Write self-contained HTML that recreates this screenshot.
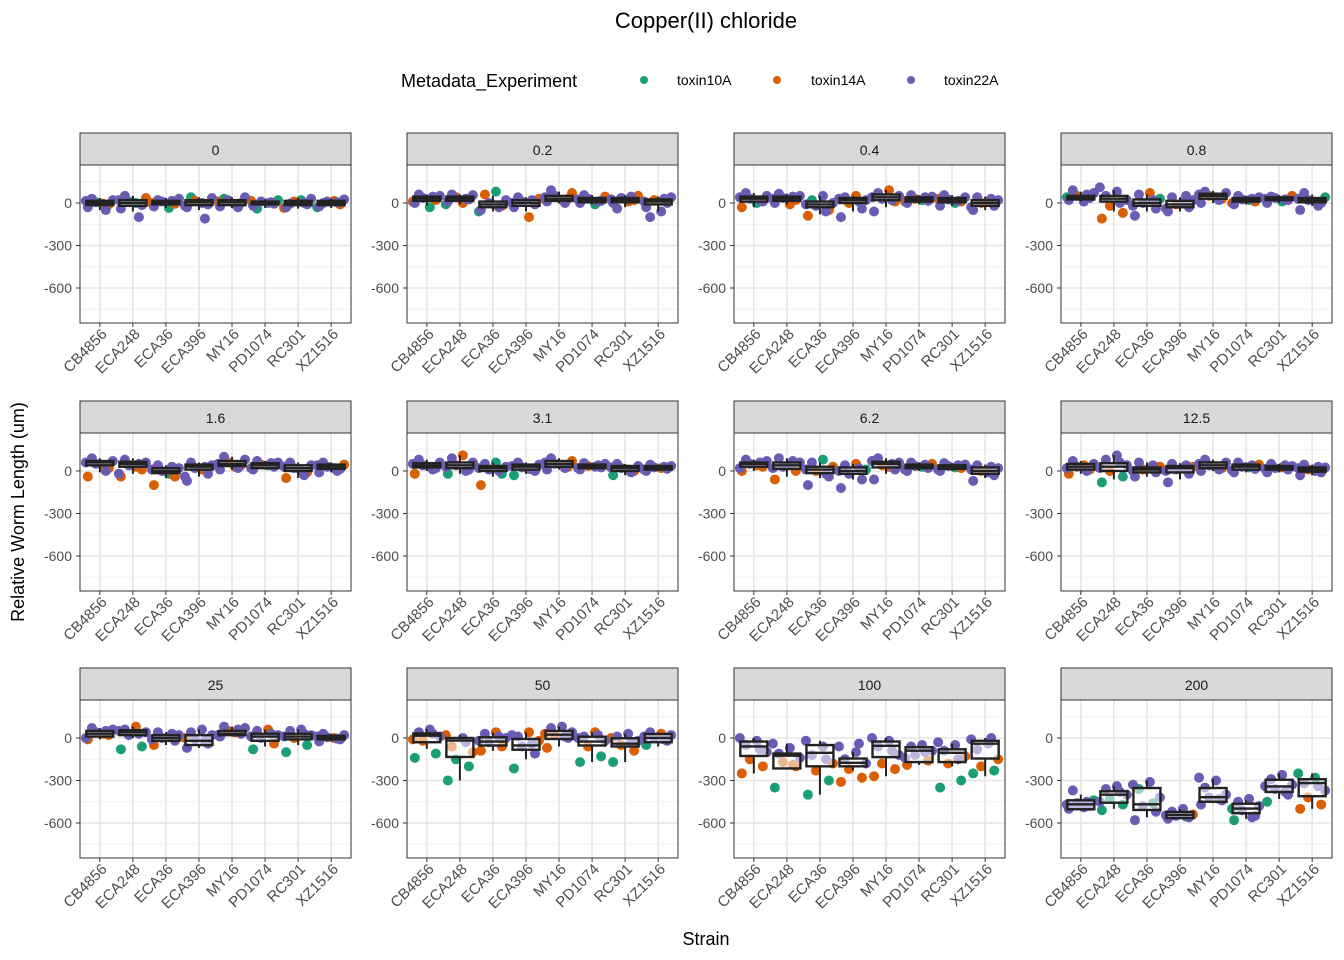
<!DOCTYPE html>
<html><head><meta charset="utf-8"><style>
body{margin:0;background:#fff}
svg{display:block;font-family:"Liberation Sans",Arial,sans-serif}
</style></head><body>
<svg id="c" width="1344" height="960" viewBox="0 0 1344 960">
<text x="706" y="28" text-anchor="middle" font-size="22" fill="#000">Copper(II) chloride</text>
<g>
<text x="401" y="87" font-size="18" fill="#000">Metadata_Experiment</text>
<circle cx="644" cy="80" r="4" fill="#1b9e77"/>
<text x="677" y="85" font-size="14">toxin10A</text>
<circle cx="777" cy="80" r="4" fill="#d95f02"/>
<text x="811" y="85" font-size="14">toxin14A</text>
<circle cx="911" cy="80" r="4" fill="#6b5cb3"/>
<text x="944" y="85" font-size="14">toxin22A</text>
</g>
<text transform="translate(24,512) rotate(-90)" text-anchor="middle" font-size="18">Relative Worm Length (um)</text>
<text x="706" y="945" text-anchor="middle" font-size="18">Strain</text>
<g id="panels"></g>
</svg>
<script>
const strains = ["CB4856","ECA248","ECA36","ECA396","MY16","PD1074","RC301","XZ1516"];
const doses = ["0","0.2","0.4","0.8","1.6","3.1","6.2","12.5","25","50","100","200"];
const yTicks = [0,-300,-600];
const expColors = ["#1b9e77","#d95f02","#6b5cb3"];
// box stats per panel per strain: [q1, median, q3, lowerWhisker, upperWhisker]
const boxes = [
[[-15,0,15,-50,35],[-20,0,20,-60,50],[-10,5,15,-35,35],[-15,5,20,-50,40],[-15,5,20,-35,40],[-10,0,10,-35,25],[-15,0,15,-40,35],[-15,0,15,-35,30]],
[[15,30,45,-20,60],[15,30,45,-10,60],[-30,-10,10,-60,50],[-20,0,20,-60,40],[15,30,50,0,80],[5,20,35,-10,55],[5,20,35,-30,55],[-10,10,25,-60,45]],
[[10,30,45,-30,70],[15,30,45,-10,65],[-30,-10,10,-80,50],[0,20,35,-60,50],[20,40,60,-30,90],[10,25,40,-10,55],[5,20,35,-20,55],[-20,0,20,-50,45]],
[[25,40,50,10,80],[10,30,50,-60,90],[-20,0,25,-60,60],[-30,-10,15,-60,40],[30,50,65,0,85],[10,20,35,-10,50],[20,30,40,0,55],[5,20,35,-20,60]],
[[40,60,70,-10,90],[30,50,65,-20,90],[-15,0,20,-50,40],[10,30,45,-40,60],[35,50,70,10,100],[20,40,55,10,70],[0,20,40,-50,60],[15,30,45,-10,60]],
[[25,40,55,0,80],[20,40,60,-20,110],[0,20,35,-40,60],[10,30,45,-20,60],[30,50,70,10,90],[20,30,45,10,55],[0,20,35,-30,50],[10,20,35,0,45]],
[[30,50,60,0,80],[15,40,60,-40,90],[-15,10,30,-50,60],[-20,0,25,-60,50],[25,50,65,-20,90],[20,30,45,0,60],[15,30,40,0,55],[-20,0,25,-50,45]],
[[10,30,50,-20,70],[0,30,55,-60,110],[-10,10,25,-40,60],[-10,20,35,-60,55],[20,40,60,0,80],[10,30,45,-10,60],[10,20,35,-10,50],[-5,10,25,-30,45]],
[[10,30,50,-10,70],[20,40,55,0,80],[-20,0,20,-50,40],[-50,-20,20,-70,60],[20,30,50,10,80],[-20,10,30,-60,60],[-10,10,30,-50,60],[-10,0,15,-25,30]],
[[-30,16,32,-76,62],[-134,-18,0,-300,20],[-53,-25,5,-90,40],[-83,-53,-7,-150,40],[-7,23,50,-60,80],[-53,-25,9,-170,40],[-60,-40,-2,-170,30],[-30,0,28,-60,40]],
[[-127,-60,-25,-250,0],[-215,-125,-110,-220,-40],[-200,-105,-50,-400,-20],[-200,-175,-145,-230,-100],[-135,-55,-25,-270,0],[-170,-90,-65,-190,-55],[-170,-105,-80,-200,-40],[-145,-40,-20,-270,0]],
[[-503,-468,-440,-510,-400],[-457,-400,-376,-500,-340],[-508,-468,-353,-560,-300],[-565,-543,-522,-570,-500],[-450,-418,-353,-460,-290],[-531,-498,-464,-570,-440],[-381,-342,-295,-430,-250],[-411,-318,-291,-500,-250]]
];
// point values per panel per strain
const pointVals = [
[[-30,-10,5,20,30,-5,15,-50],[-40,-15,10,35,50,0,20,-100],[-25,-5,10,30,20,-35,0,15],[-30,-10,15,35,40,0,-20,-110],[-25,0,20,40,30,-10,10,-30],[-20,-5,10,20,-40,0,15,5],[-30,-10,10,30,-5,20,-35,0],[-25,-10,10,25,0,15,-30,5]],
[[0,20,35,50,60,-30,10,45],[10,25,40,55,60,0,-10,30],[-50,-20,0,20,60,80,-60,-30],[-30,-10,10,30,40,-100,0,20],[10,30,50,70,90,20,40,0],[0,15,30,45,55,-10,25,10],[0,20,35,50,-40,10,25,45],[-30,0,20,40,-100,-60,10,30]],
[[-30,10,30,50,70,0,40,20],[0,20,35,50,65,-10,30,45],[-90,-50,-20,0,20,50,-10,-60],[-100,-40,0,20,40,50,30,10],[-60,10,30,50,70,90,40,20],[0,15,30,45,55,20,10,40],[-20,10,25,40,55,0,30,15],[-50,-20,0,20,40,10,-30,30]],
[[20,35,50,70,90,10,40,60],[-110,-70,-20,20,50,80,110,0],[-90,-40,0,30,60,70,-20,20],[-60,-30,-10,20,40,0,-40,50],[0,30,50,70,80,40,60,20],[-10,10,25,40,50,20,0,30],[0,20,35,50,45,10,30,25],[-50,0,20,40,70,10,30,-20]],
[[-40,20,50,70,90,40,60,0],[-40,10,40,60,80,30,-20,50],[-100,-40,0,20,40,-20,10,30],[-70,-20,20,40,60,10,-40,30],[10,40,60,80,100,30,50,20],[10,30,45,60,70,40,20,55],[-50,-10,20,40,60,0,30,-30],[-10,15,30,45,60,20,40,0]],
[[-20,20,40,60,80,30,50,10],[-20,10,40,60,90,110,30,0],[-100,-20,10,30,50,60,20,0],[-30,0,25,45,60,15,35,10],[10,30,50,70,90,40,60,20],[10,25,35,50,55,30,20,40],[-30,0,20,35,50,10,25,-10],[0,15,25,35,45,20,10,30]],
[[0,30,50,70,80,40,20,60],[-60,0,30,60,90,40,20,70],[-100,-40,0,30,60,80,10,-20],[-120,-60,-20,10,40,50,0,20],[-60,10,40,60,90,30,70,50],[0,20,35,50,60,30,10,45],[0,20,35,45,55,25,10,40],[-70,-30,0,20,40,-10,10,30]],
[[-20,10,30,50,70,40,20,0],[-80,-40,0,40,80,110,20,60],[-40,-10,10,30,60,20,0,40],[-80,-20,10,30,50,20,0,40],[0,20,40,60,80,30,50,10],[-10,15,30,45,60,25,5,40],[-10,10,20,35,50,25,15,40],[-30,-10,10,25,45,0,20,30]],
[[-10,20,40,60,70,30,0,50],[-80,-60,20,40,60,80,50,30],[-50,-20,0,20,40,10,-10,30],[-70,-40,-10,20,40,60,0,-20],[10,30,50,70,80,40,20,60],[-80,-40,0,20,50,60,10,30],[-100,-50,0,20,50,60,10,30],[-25,-10,5,20,30,0,10,-5]],
[[-140,-110,-20,10,40,60,-10,30],[-300,-200,-150,-100,-60,0,20,-30],[-90,-60,-30,0,30,40,-20,10],[-215,-110,-60,-20,10,40,20,-40],[-70,0,20,40,70,80,30,10],[-170,-130,-60,-20,10,40,0,20],[-170,-90,-50,-20,10,30,0,-30],[-50,-20,0,20,40,30,10,-10]],
[[-250,-200,-150,-100,-50,-20,0,-80],[-350,-200,-170,-140,-110,-70,-40,-190],[-400,-300,-230,-180,-120,-60,-20,-150],[-310,-280,-220,-180,-150,-100,-60,-40],[-270,-220,-180,-120,-60,-20,0,-90],[-190,-160,-120,-90,-60,-50,-140,-100],[-350,-300,-180,-130,-90,-50,-30,-150],[-250,-230,-200,-150,-80,-40,-10,0]],
[[-500,-480,-460,-440,-370,-490,-470,-450],[-510,-470,-430,-400,-360,-340,-450,-380],[-580,-520,-480,-420,-360,-310,-330,-460],[-570,-560,-550,-540,-520,-500,-545,-555],[-470,-440,-420,-400,-350,-300,-280,-430],[-580,-550,-510,-480,-450,-430,-500,-560],[-450,-400,-360,-330,-290,-260,-340,-380],[-500,-470,-420,-370,-320,-280,-250,-340]]
];
// experiment index (0=toxin10A,1=toxin14A,2=toxin22A) for each point
const pointExp = [
["21022122","22012022","21222012","22120222","21220212","22200212","22122012","21222102"],
["21222012","22122102","21221002","22212122","21212122","22212022","21212122","22122222"],
["12222022","21222122","11220222","22122122","21222122","22122012","21222012","22122122"],
["22122202","11122222","22202122","22122222","21122022","21222012","22212022","22202122"],
["11222122","11222122","11222022","22222122","21122122","22122022","11222022","22212022"],
["12222022","02222122","10222022","02222122","21212122","22122222","01222122","22222122"],
["11222122","11222222","22112022","22202122","22122122","22212022","21222022","22122222"],
["11222122","00122222","22112022","22212222","21222122","22212022","22222122","22122222"],
["11222122","00222122","12222022","22222212","22122122","01222122","00122222","22222122"],
["00122212","00011212","11222122","02212122","12122212","00122122","01122212","02222122"],
["11122222","01122221","00112222","11122222","11122222","11222222","00112222","00112222"],
["22202222","00022222","22220220","22212220","22222222","02222202","02222222","11122002"]
];
const colX=[80,407,734,1061], rowTop=[133,401,668], PW=271, SH=32, PH=158;
const YMAX=268, YMIN=-847;
const jit=[-12,9,-4,13,-8,3,-14,6];
const NS="http://www.w3.org/2000/svg";
const root=document.getElementById('panels');
function el(t,a,p){const e=document.createElementNS(NS,t);for(const k in a)e.setAttribute(k,a[k]);(p||root).appendChild(e);return e;}
doses.forEach((d,pi)=>{
  const x0=colX[pi%4], st=rowTop[Math.floor(pi/4)], y0=st+SH;
  const ys=v=>y0+(YMAX-v)/(YMAX-YMIN)*PH;
  const xs=i=>x0+(i+0.6)/8.2*PW;
  const g=el('g',{});
  
  
  const strip=el('rect',{x:x0,y:st,width:PW,height:SH,fill:'#d9d9d9',stroke:'#333','stroke-width':1},g);
  
  
  const stt=el('text',{x:x0+PW/2,y:st+22,'text-anchor':'middle','font-size':14,fill:'#1a1a1a'},g);
  stt.textContent=d;
  
  
  el('rect',{x:x0,y:y0,width:PW,height:PH,fill:'#fff'},g);
  [150,-150,-450,-750].forEach(v=>el('line',{x1:x0,x2:x0+PW,y1:ys(v),y2:ys(v),stroke:'#f2f2f2','stroke-width':1},g));
  yTicks.forEach(v=>el('line',{x1:x0,x2:x0+PW,y1:ys(v),y2:ys(v),stroke:'#e5e5e5','stroke-width':1.5},g));
  strains.forEach((s,i)=>el('line',{x1:xs(i),x2:xs(i),y1:y0,y2:y0+PH,stroke:'#e5e5e5','stroke-width':1.5},g));
  [0,1,2].forEach(e=>{
    strains.forEach((s,i)=>{
      pointVals[pi][i].forEach((v,k)=>{
        if(+pointExp[pi][i][k]!==e) return;
        const c=el('circle',{cx:xs(i)+jit[k],cy:ys(v),r:5,fill:expColors[e]},g);
        
        
      });
    });
  });
  strains.forEach((s,i)=>{
    const b=boxes[pi][i], cx=xs(i), hw=13.5;
    el('line',{x1:cx,x2:cx,y1:ys(b[4]),y2:ys(b[2]),stroke:'#222','stroke-width':2},g);
    el('line',{x1:cx,x2:cx,y1:ys(b[0]),y2:ys(b[3]),stroke:'#222','stroke-width':2},g);
    const r=el('rect',{x:cx-hw,y:ys(b[2]),width:2*hw,height:Math.max(ys(b[0])-ys(b[2]),0.5),fill:'rgba(255,255,255,0.55)',stroke:'#222','stroke-width':2.4},g);
    
    
    el('line',{x1:cx-hw,x2:cx+hw,y1:ys(b[1]),y2:ys(b[1]),stroke:'#222','stroke-width':2.4},g);
  });
  el('rect',{x:x0,y:y0,width:PW,height:PH,fill:'none',stroke:'#333','stroke-width':1},g);
  yTicks.forEach(v=>{
    el('line',{x1:x0-4,x2:x0,y1:ys(v),y2:ys(v),stroke:'#333'},g);
    const t=el('text',{x:x0-8,y:ys(v)+5,'text-anchor':'end','font-size':14,fill:'#4d4d4d'},g);
    t.textContent=v;
    
    
  });
  strains.forEach((s,i)=>{
    el('line',{x1:xs(i),x2:xs(i),y1:y0+PH,y2:y0+PH+4,stroke:'#333'},g);
    const t=el('text',{transform:`translate(${xs(i)+8},${y0+PH+12}) rotate(-45)`,'text-anchor':'end','font-size':15,fill:'#4d4d4d'},g);
    t.textContent=s;
    
    
  });
});
</script>
</body></html>
